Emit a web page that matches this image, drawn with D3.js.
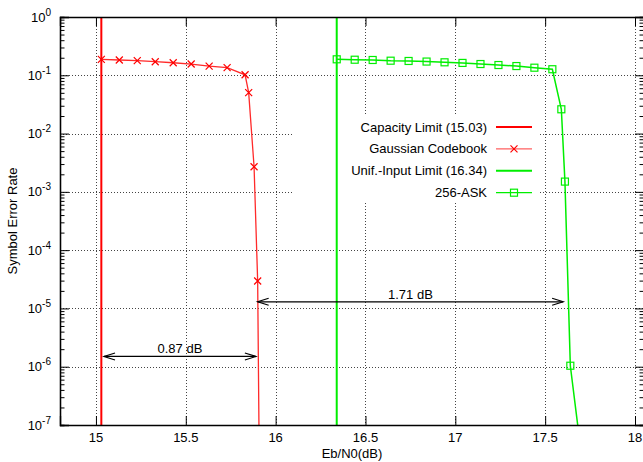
<!DOCTYPE html>
<html>
<head>
<meta charset="utf-8">
<script src="https://cdn.jsdelivr.net/npm/d3@7"></script>
<style>
  body { margin: 0; background: #fff; }
  svg { font-family: "Liberation Sans", Arial, sans-serif; }
</style>
</head>
<body>
<svg width="643" height="462"></svg>
<script>
// values
var gaussX = [15.03, 15.13, 15.23, 15.33, 15.43, 15.53, 15.63, 15.73, 15.83, 15.85, 15.88, 15.90, 15.91]
var gaussY = [0.188, 0.183, 0.178, 0.171, 0.164, 0.156, 0.144, 0.135, 0.102, 0.0503, 0.0027, 2.96e-5, 1e-8]
var askX = [16.34, 16.44, 16.54, 16.64, 16.74, 16.84, 16.94, 17.04, 17.14, 17.24, 17.34, 17.44, 17.54, 17.59, 17.61, 17.64, 17.69]
var askY = [0.188, 0.185, 0.183, 0.178, 0.176, 0.172, 0.167, 0.163, 0.156, 0.150, 0.144, 0.135, 0.127, 0.0261, 0.0015, 1.04e-6, 6e-8]
var capacityLimit = 15.03
var uniformLimit = 16.34
var xTicks = [15, 15.5, 16, 16.5, 17, 17.5, 18]
var yDecades = [0, -1, -2, -3, -4, -5, -6, -7]
var legendNames = ["Capacity Limit (15.03)", "Gaussian Codebook", "Unif.-Input Limit (16.34)", "256-ASK"]
var arrows = [
  {x1: 15.89, x2: 15.045, y: 1.5e-6, label: "0.87 dB"},
  {x1: 15.9, x2: 17.6, y: 1.3e-5, label: "1.71 dB"}
]

var svg = d3.select("svg")
var plotL = 60, plotR = 644, plotT = 17, plotB = 425

var x = d3.scaleLinear().domain([14.8, 18.05]).range([plotL, plotR])
var y = d3.scaleLog().domain([1e-7, 1]).range([plotB, plotT])

// minor log ticks
var minorY = []
yDecades.forEach(function (d) {
  if (d == 0) return
  for (var k = 2; k <= 9; k++) minorY.push(k * Math.pow(10, d))
})

// grid
var grid = svg.append("g")
  .attr("stroke", "#444")
  .attr("stroke-width", 1)
  .attr("stroke-dasharray", "1,2")
grid.selectAll(".gx").data(xTicks).enter().append("line")
  .attr("x1", function (d) { return Math.round(x(d)) + 0.5 })
  .attr("x2", function (d) { return Math.round(x(d)) + 0.5 })
  .attr("y1", plotT).attr("y2", plotB)
grid.selectAll(".gy").data(yDecades).enter().append("line")
  .attr("x1", plotL).attr("x2", plotR)
  .attr("y1", function (d) { return Math.round(y(Math.pow(10, d))) + 0.5 })
  .attr("y2", function (d) { return Math.round(y(Math.pow(10, d))) + 0.5 })

// key background hides grid behind it
svg.append("rect")
  .attr("x", 292).attr("y", 116)
  .attr("width", 248).attr("height", 87)
  .attr("fill", "#fff")

var plot = svg.append("g")
svg.append("clipPath").attr("id", "clip")
  .append("rect").attr("x", plotL).attr("y", plotT)
  .attr("width", plotR - plotL).attr("height", plotB - plotT)
plot.attr("clip-path", "url(#clip)")

var line = d3.line()
  .x(function (d) { return x(d[0]) })
  .y(function (d) { return y(d[1]) })

var gauss = gaussX.map(function (v, i) { return [v, gaussY[i]] })
var ask = askX.map(function (v, i) { return [v, askY[i]] })

// vertical limits
plot.append("line")
  .attr("x1", x(capacityLimit)).attr("x2", x(capacityLimit))
  .attr("y1", plotT).attr("y2", plotB)
  .attr("stroke", "#ff0000").attr("stroke-width", 2)
plot.append("line")
  .attr("x1", x(uniformLimit)).attr("x2", x(uniformLimit))
  .attr("y1", plotT).attr("y2", plotB)
  .attr("stroke", "#00ee00").attr("stroke-width", 2)

plot.append("path").datum(gauss)
  .attr("d", line).attr("fill", "none")
  .attr("stroke", "#ff2a2a").attr("stroke-width", 1.3)
plot.append("path").datum(ask)
  .attr("d", line).attr("fill", "none")
  .attr("stroke", "#00ee00").attr("stroke-width", 1.5)

function crossMark(g, cx, cy) {
  g.append("path")
    .attr("d", "M" + (cx - 3.5) + "," + (cy - 3.5) + "L" + (cx + 3.5) + "," + (cy + 3.5) +
               "M" + (cx - 3.5) + "," + (cy + 3.5) + "L" + (cx + 3.5) + "," + (cy - 3.5))
    .attr("stroke", "#ff0000").attr("stroke-width", 1.2).attr("fill", "none")
}
function boxMark(g, cx, cy) {
  g.append("rect")
    .attr("x", cx - 3.5).attr("y", cy - 3.5)
    .attr("width", 7).attr("height", 7)
    .attr("stroke", "#00ee00").attr("stroke-width", 1.2).attr("fill", "none")
}
gauss.forEach(function (d) {
  if (d[1] >= 1e-7) crossMark(plot, x(d[0]), y(d[1]))
})
ask.forEach(function (d) {
  if (d[1] >= 1e-7) boxMark(plot, x(d[0]), y(d[1]))
})

// arrows with open heads at both ends
arrows.forEach(function (a) {
  var g = svg.append("g").attr("stroke", "#000").attr("stroke-width", 1.2).attr("fill", "none")
  var xa = x(a.x1), xb = x(a.x2), yy = y(a.y)
  g.append("line").attr("x1", xa).attr("x2", xb).attr("y1", yy).attr("y2", yy)
  ;[[xa, xb], [xb, xa]].forEach(function (p) {
    var dir = p[0] < p[1] ? 1 : -1
    g.append("path")
      .attr("d", "M" + (p[0] + dir * 11) + "," + (yy - 3.5) + "L" + p[0] + "," + yy +
                 "L" + (p[0] + dir * 11) + "," + (yy + 3.5))
  })
  svg.append("text")
    .attr("x", (xa + xb) / 2).attr("y", yy - 3)
    .attr("text-anchor", "middle")
    .attr("font-size", 13)
    .text(a.label)
})

// legend
var legend = svg.append("g")
legendNames.forEach(function (name, i) {
  var ly = 127 + i * 21.9
  legend.append("text")
    .attr("x", 487).attr("y", ly + 4.5)
    .attr("text-anchor", "end")
    .attr("font-size", 13)
    .text(name)
  var color = i < 2 ? "#ff0000" : "#00ee00"
  legend.append("line")
    .attr("x1", 496).attr("x2", 532)
    .attr("y1", ly).attr("y2", ly)
    .attr("stroke", i == 1 ? "#ff6060" : color)
    .attr("stroke-width", i % 2 == 0 ? 2 : 1.3)
  if (i == 1) crossMark(legend, 514, ly)
  if (i == 3) boxMark(legend, 514, ly)
})

// axes: ticks point inward like gnuplot
var axes = svg.append("g")
var majorY = yDecades.map(function (d) { return Math.pow(10, d) })
axes.append("g").attr("transform", "translate(0," + plotB + ")")
  .call(d3.axisBottom(x).tickValues(xTicks).tickSize(-9).tickFormat(""))
axes.append("g").attr("transform", "translate(0," + plotT + ")")
  .call(d3.axisTop(x).tickValues(xTicks).tickSize(-9).tickFormat(""))
axes.append("g").attr("transform", "translate(" + plotL + ",0)")
  .call(d3.axisLeft(y).tickValues(majorY).tickSize(-9).tickFormat(""))
axes.append("g").attr("transform", "translate(" + plotL + ",0)")
  .call(d3.axisLeft(y).tickValues(minorY).tickSize(-4.5).tickFormat(""))
axes.append("g").attr("transform", "translate(" + plotR + ",0)")
  .call(d3.axisRight(y).tickValues(majorY).tickSize(-9).tickFormat(""))
axes.append("g").attr("transform", "translate(" + plotR + ",0)")
  .call(d3.axisRight(y).tickValues(minorY).tickSize(-4.5).tickFormat(""))
axes.selectAll("path.domain").attr("stroke", "#000").attr("stroke-width", 1.3)
axes.selectAll(".tick line").attr("stroke", "#000")

// tick labels
svg.selectAll(".xl").data(xTicks).enter().append("text")
  .attr("x", function (d) { return x(d) })
  .attr("y", 442)
  .attr("text-anchor", "middle")
  .attr("font-size", 13)
  .text(function (d) { return d })

yDecades.forEach(function (d) {
  var t = svg.append("text")
    .attr("x", 51).attr("y", y(Math.pow(10, d)) + 4.5)
    .attr("text-anchor", "end")
    .attr("font-size", 13)
  t.append("tspan").text("10")
  t.append("tspan").attr("dy", -6).attr("font-size", 10).text(d)
})

svg.append("text")
  .attr("x", 352).attr("y", 458)
  .attr("text-anchor", "middle")
  .attr("font-size", 13)
  .text("Eb/N0(dB)")
svg.append("text")
  .attr("transform", "translate(17,221) rotate(-90)")
  .attr("text-anchor", "middle")
  .attr("font-size", 13)
  .text("Symbol Error Rate")
</script>
</body>
</html>
